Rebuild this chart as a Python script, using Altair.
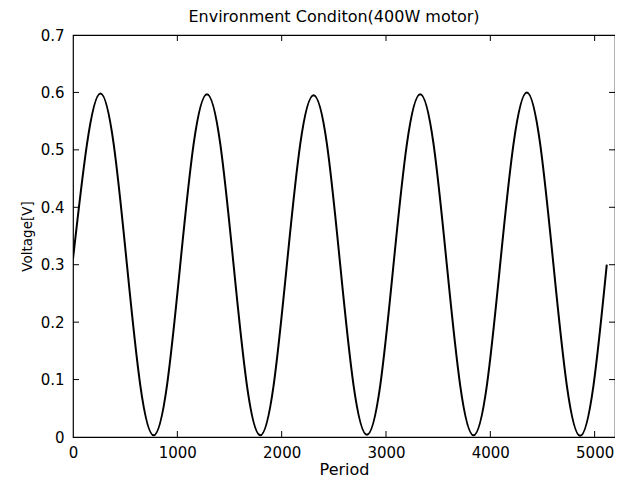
import altair as alt
import pandas as pd

# Values
period = [0, 134, 262, 390, 517, 645, 773, 901,
          1028, 1156, 1284, 1412, 1539, 1667, 1795, 1923,
          2050, 2178, 2306, 2434, 2561, 2689, 2817, 2945,
          3072, 3200, 3328, 3456, 3583, 3711, 3839, 3967,
          4094, 4222, 4350, 4478, 4605, 4733, 4861, 4989,
          5116]
voltage = [0.31, 0.51, 0.598, 0.51, 0.30, 0.09, 0.003, 0.09,
           0.30, 0.51, 0.597, 0.51, 0.30, 0.09, 0.003, 0.09,
           0.30, 0.51, 0.595, 0.51, 0.30, 0.09, 0.004, 0.09,
           0.30, 0.51, 0.597, 0.51, 0.30, 0.09, 0.003, 0.09,
           0.30, 0.51, 0.600, 0.51, 0.30, 0.09, 0.002, 0.09,
           0.30]
x_tick_values = [0, 1000, 2000, 3000, 4000, 5000]
y_tick_values = [0, 0.1, 0.2, 0.3, 0.4, 0.5, 0.6, 0.7]
x_inner_ticks = [1000, 2000, 3000, 4000, 5000]
y_inner_ticks = [0.1, 0.2, 0.3, 0.4, 0.5, 0.6]
title_text = "Environment Conditon(400W motor)"

W, H = 542, 402
FONT = "DejaVu Sans"

df = pd.DataFrame({"Period": period, "Voltage": voltage})
xt = pd.DataFrame({"Period": x_inner_ticks})
yt = pd.DataFrame({"Voltage": y_inner_ticks})

xscale = alt.Scale(domain=[0, 5195], nice=False, zero=False)
yscale = alt.Scale(domain=[0, 0.7], nice=False)

line = alt.Chart(df).mark_line(color="black", strokeWidth=2, interpolate="natural", clip=True).encode(
    x=alt.X("Period:Q", scale=xscale,
            axis=alt.Axis(values=x_tick_values, title="Period", format="d",
                          labelPadding=8, titleFontSize=16, titlePadding=1)),
    y=alt.Y("Voltage:Q", scale=yscale,
            axis=alt.Axis(values=y_tick_values, title="Voltage[V]",
                          labelPadding=9, titleFontSize=13.5, titlePadding=6,
                          labelExpr="datum.value == 0 ? '0' : format(datum.value, '.1f')")),
)

tick_len = 6
xb = alt.Chart(xt).mark_rule(color="black", strokeWidth=1).encode(
    x=alt.X("Period:Q", scale=xscale), y=alt.value(H), y2=alt.value(H - tick_len))
xtop = alt.Chart(xt).mark_rule(color="black", strokeWidth=1).encode(
    x=alt.X("Period:Q", scale=xscale), y=alt.value(0), y2=alt.value(tick_len))
yl = alt.Chart(yt).mark_rule(color="black", strokeWidth=1).encode(
    y=alt.Y("Voltage:Q", scale=yscale), x=alt.value(0), x2=alt.value(tick_len))
yr = alt.Chart(yt).mark_rule(color="black", strokeWidth=1).encode(
    y=alt.Y("Voltage:Q", scale=yscale), x=alt.value(W), x2=alt.value(W - tick_len))

title = alt.Chart(pd.DataFrame({"t": [title_text]})).mark_text(
    font=FONT, fontSize=16, color="black", align="center", baseline="alphabetic"
).encode(text="t:N", x=alt.value(W / 2 - 10), y=alt.value(-13))

chart = alt.layer(line, xb, xtop, yl, yr, title).properties(
    width=W, height=H,
    background="white",
    autosize=alt.AutoSizeParams(type="none"),
    padding={"left": 65, "top": 27, "right": 0, "bottom": 42},
).configure_axis(
    grid=False, ticks=False, domain=False, labelFont=FONT, labelFontSize=15,
    labelColor="black", titleFont=FONT, titleFontWeight="normal", titleColor="black",
    labelFlush=False,
).configure_view(stroke="black", strokeWidth=1.2)

chart.save("out.html", embed_options={"renderer": "svg", "actions": False})
